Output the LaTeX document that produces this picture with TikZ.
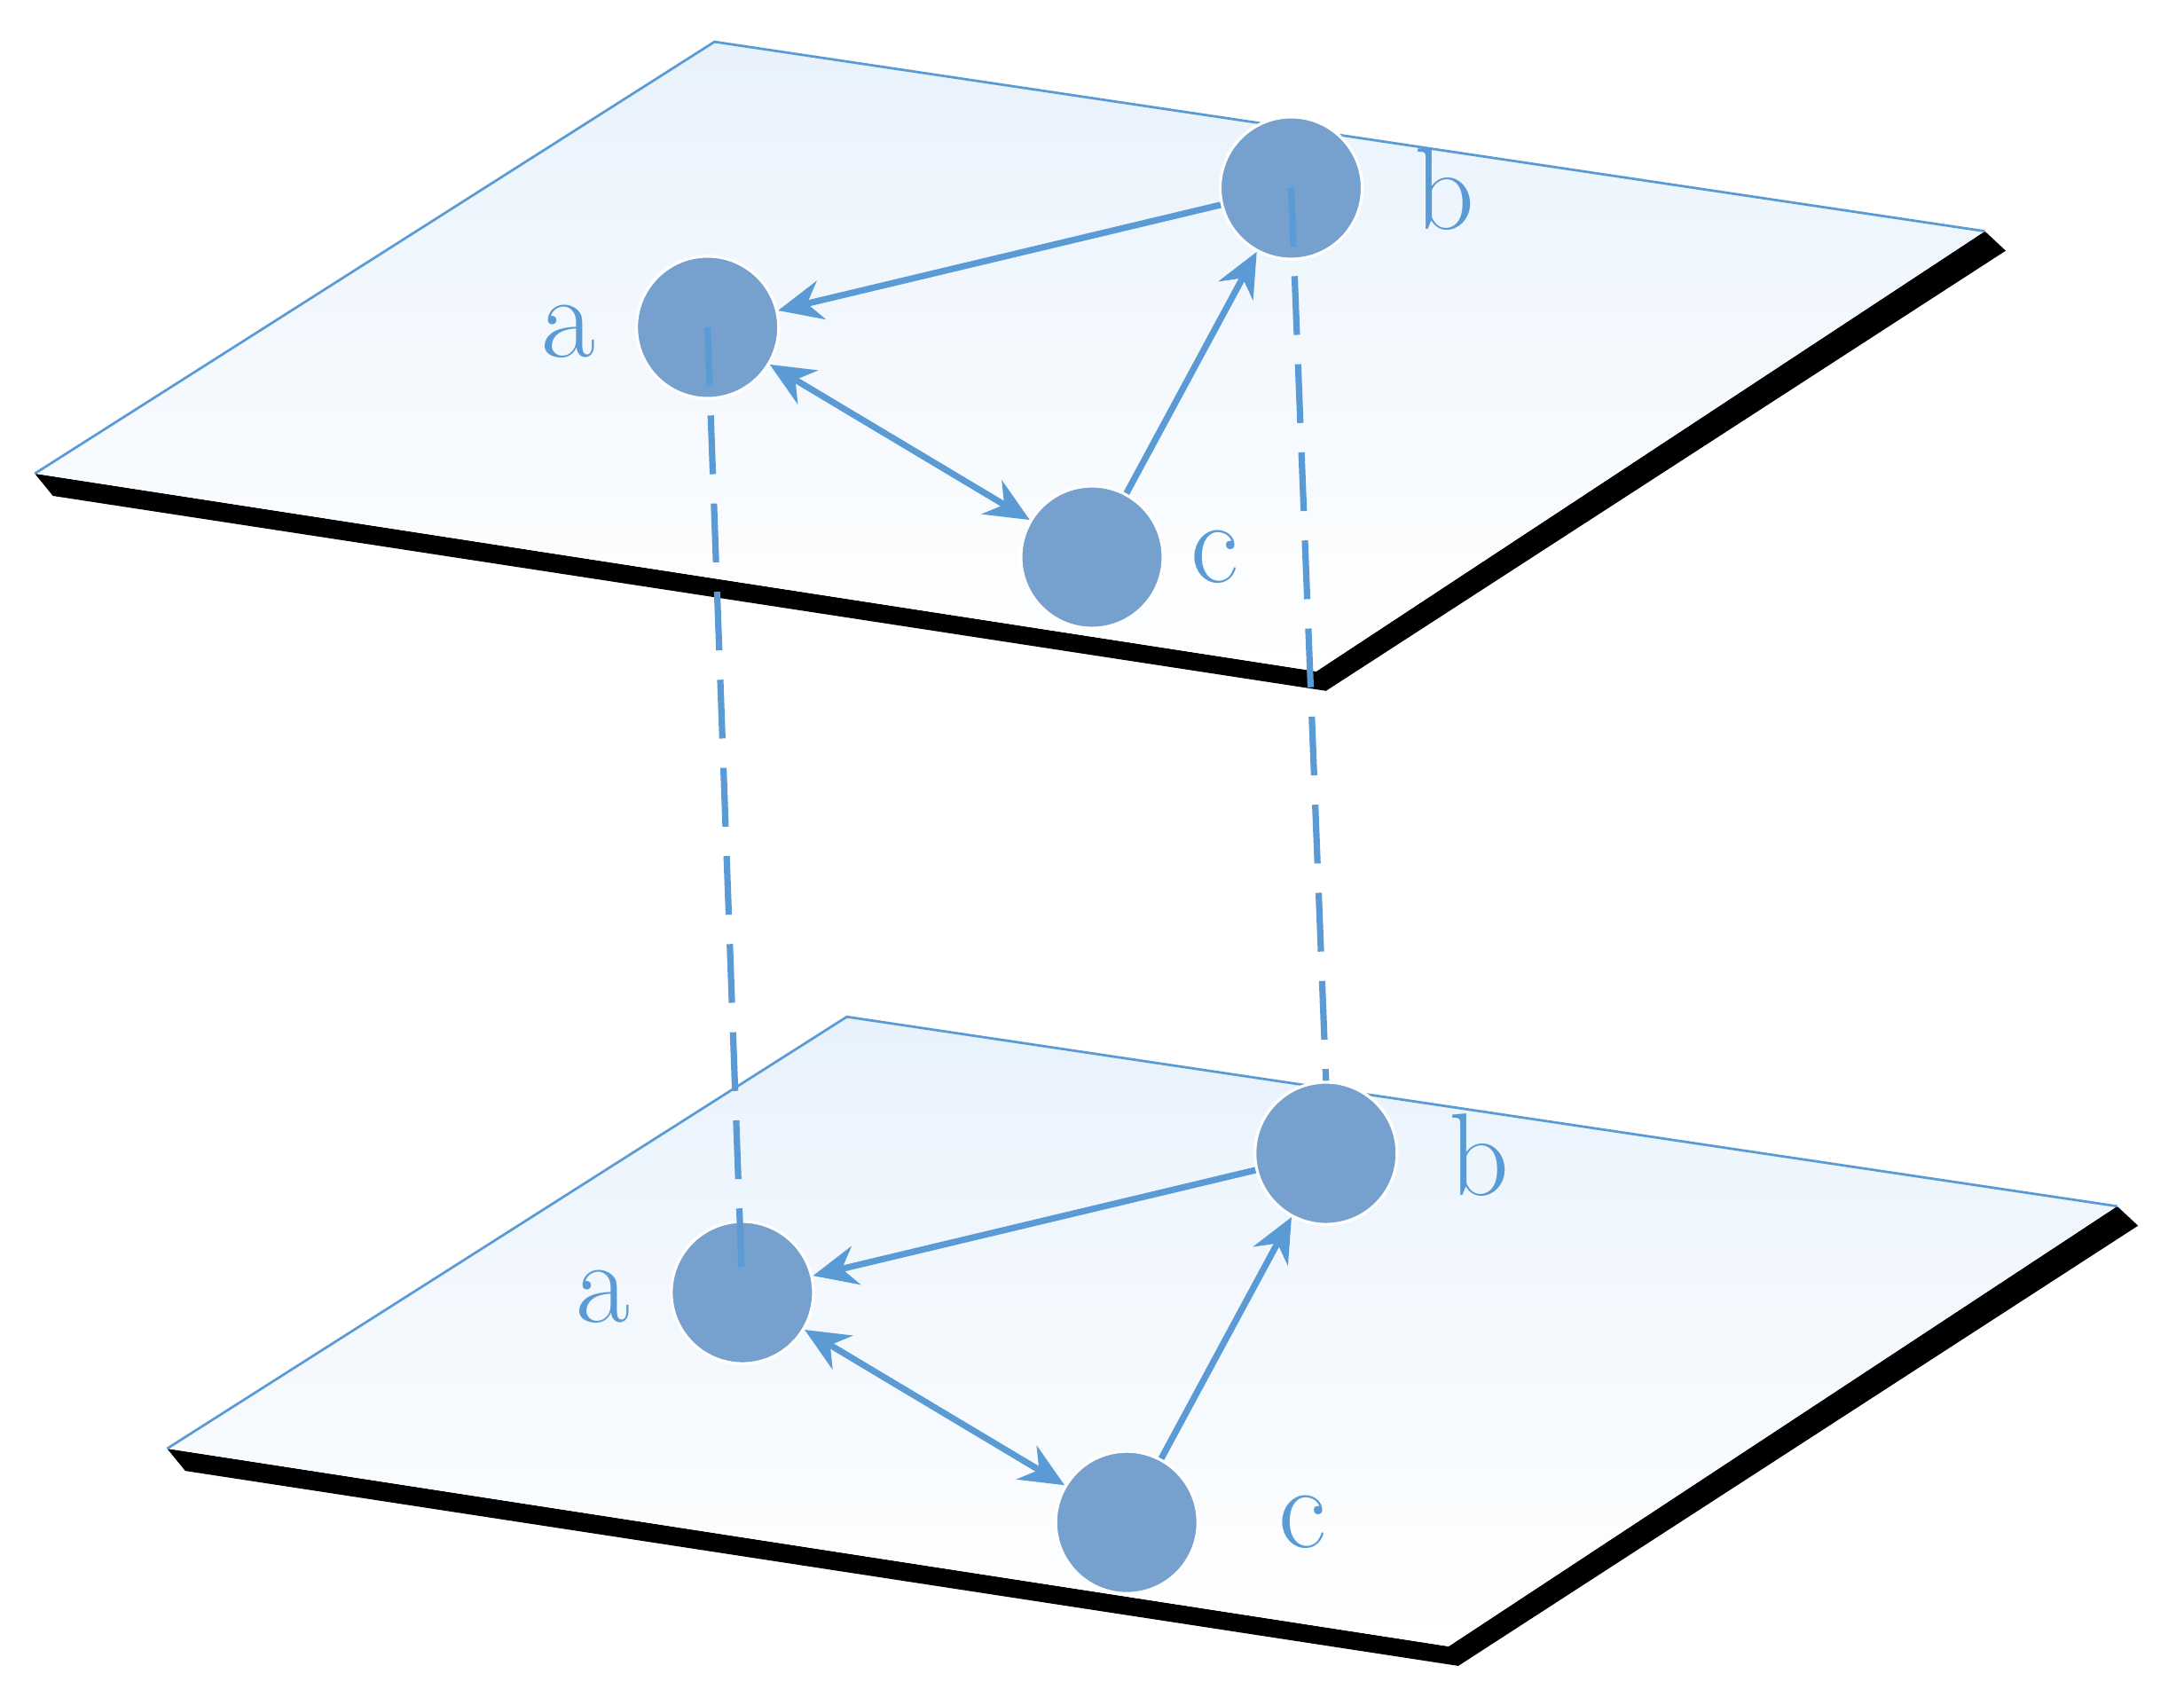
\documentclass[tikz,border=0pt]{standalone}
\usetikzlibrary{arrows.meta}
\definecolor{ab}{RGB}{91,155,213}
\definecolor{nf}{RGB}{118,161,206}
\definecolor{lb}{RGB}{232,242,252}
\tikzset{
 nd/.style={circle,fill=nf,draw=white,line width=0.6pt,minimum size=1.02cm,inner sep=0},
 lbl/.style={text=ab,font=\fontsize{24}{28}\selectfont},
 ar/.style={draw=ab,line width=1.3pt,-{Stealth[length=9pt,width=8pt]}},
 dar/.style={draw=ab,line width=1.3pt,{Stealth[length=9pt,width=8pt]}-{Stealth[length=9pt,width=8pt]}},
 dsh/.style={draw=ab,line width=1.3pt,dash pattern=on 12pt off 6pt},
 edge/.style={draw=ab,line width=0.5pt},
}
\begin{document}
\begin{tikzpicture}[x=0.01cm,y=-0.01cm]
\useasboundingbox (0,0) rectangle (1568,1218);
% planes
\foreach \dx/\dy in {0/0,95/700}{
 \begin{scope}[shift={(\dx,\dy)}]
 \fill[black] (25,340) -- (945,482) -- (1425,166) -- (1440,180) -- (952,496) -- (38,356) -- cycle;
 \shade[top color=lb,bottom color=white] (513,30) -- (1425,166) -- (945,482) -- (25,340) -- cycle;
 \draw[edge] (25,340) -- (513,30) -- (1425,166);
 \end{scope}}
% top layer
\node[nd] (a1) at (508,235) {};
\node[nd] (b1) at (927,135) {};
\node[nd] (c1) at (784,400) {};
\node[lbl] (la1) at (408,238) {a};
\node[lbl] (lb1) at (1037,136) {b};
\node[lbl] (lc1) at (872,400) {c};
\draw[ar] (b1) -- (a1);
\draw[dar] (a1) -- (c1);
\draw[ar] (c1) -- (b1);
% bottom layer
\node[nd] (a2) at (533,928) {};
\node[nd] (b2) at (952,828) {};
\node[nd] (c2) at (809,1093) {};
\node[lbl] (la2) at (433,931) {a};
\node[lbl] (lb2) at (1062,829) {b};
\node[lbl] (lc2) at (935,1093) {c};
\draw[ar] (b2) -- (a2);
\draw[dar] (a2) -- (c2);
\draw[ar] (c2) -- (b2);
% dashed links
\draw[dsh] (a1.center) -- (a2.center);
\draw[dsh] (b1.center) -- (b2.north);
\end{tikzpicture}
\end{document}
